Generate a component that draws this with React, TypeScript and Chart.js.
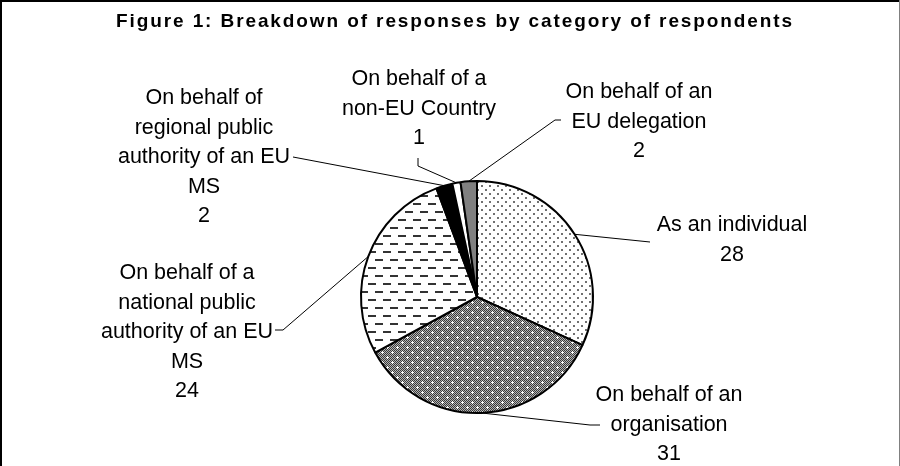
import React, { useEffect, useRef } from 'react';
import { Chart, registerables } from 'chart.js';

Chart.register(...registerables);

const titleText = 'Figure 1: Breakdown of responses by category of respondents';

const categories = [
  'As an individual',
  'On behalf of an organisation',
  'On behalf of a national public authority of an EU MS',
  'On behalf of regional public authority of an EU MS',
  'On behalf of a non-EU Country',
  'On behalf of an EU delegation',
];

const values = [28, 31, 24, 2, 1, 2];

const labelLines = [
  ['As an individual'],
  ['On behalf of an', 'organisation'],
  ['On behalf of a', 'national public', 'authority of an EU', 'MS'],
  ['On behalf of', 'regional public', 'authority of an EU', 'MS'],
  ['On behalf of a', 'non-EU Country'],
  ['On behalf of an', 'EU delegation'],
];

// layout: label centre x and first baseline y, plus leader path points (from label side)
const labelLayout = [
  { x: 732, y: 231, path: [[650, 242]] },
  { x: 669, y: 401, path: [[590, 425], [600, 425]] },
  { x: 187, y: 279, path: [[283, 330], [275, 330]] },
  { x: 204, y: 104, path: [[293, 157]] },
  { x: 419, y: 85, path: [[418, 166], [418, 158]] },
  { x: 639, y: 98, path: [[555, 120], [561, 120]] },
];

const FONT = '"Liberation Sans", Arial, sans-serif';
const LINE_H = 29.5;

function makePattern(ctx: CanvasRenderingContext2D, w: number, h: number, draw: (g: CanvasRenderingContext2D) => void) {
  const c = document.createElement('canvas');
  c.width = w;
  c.height = h;
  const g = c.getContext('2d')!;
  draw(g);
  return ctx.createPattern(c, 'repeat')!;
}

export default function App() {
  const ref = useRef<HTMLCanvasElement | null>(null);

  useEffect(() => {
    document.body.style.margin = '0';
    const canvas = ref.current!;
    const ctx = canvas.getContext('2d')!;

    const pIndividual = makePattern(ctx, 8, 8, (g) => {
      g.fillStyle = '#fff';
      g.fillRect(0, 0, 8, 8);
      g.fillStyle = '#707070';
      g.fillRect(1, 1, 2, 2);
      g.fillRect(5, 5, 2, 2);
    });
    const pOrg = makePattern(ctx, 10, 10, (g) => {
      for (let y = 0; y < 10; y++) {
        for (let x = 0; x < 10; x++) {
          g.fillStyle = (x + y) % 2 === 0 ? '#3a3a3a' : '#b4b4b4';
          g.fillRect(x, y, 1, 1);
        }
      }
      g.fillStyle = '#fff';
      const plus = (cx: number, cy: number) => {
        g.fillRect(cx - 1, cy, 3, 1);
        g.fillRect(cx, cy - 1, 1, 3);
      };
      plus(2, 2);
      plus(7, 7);
    });
    const pNational = makePattern(ctx, 15, 16, (g) => {
      g.fillStyle = '#fff';
      g.fillRect(0, 0, 15, 16);
      g.fillStyle = '#333';
      g.fillRect(0, 3, 8, 2);
      g.fillRect(8, 11, 7, 2);
      g.fillRect(0, 11, 1, 2);
    });

    const fills = [pIndividual, pOrg, pNational, '#000000', '#ffffff', '#808080'];

    const overlay = {
      id: 'overlay',
      afterDraw(chart: any) {
        const c = chart.ctx as CanvasRenderingContext2D;
        c.save();
        // frame
        c.fillStyle = '#000';
        c.fillRect(0, 0, 900, 2);
        c.fillRect(0, 0, 2, 466);
        c.fillStyle = '#808080';
        c.fillRect(899, 0, 1, 466);

        // title
        c.fillStyle = '#000';
        c.font = 'bold 19px ' + FONT;
        (c as any).letterSpacing = '1.9px';
        c.textAlign = 'center';
        c.textBaseline = 'alphabetic';
        c.fillText(titleText, 455, 27);
        (c as any).letterSpacing = '0px';

        const meta = chart.getDatasetMeta(0);
        meta.data.forEach((arc: any, i: number) => {
          const p = arc.getProps(['x', 'y', 'startAngle', 'endAngle', 'outerRadius'], true);
          const mid = (p.startAngle + p.endAngle) / 2;
          const sx = p.x + Math.cos(mid) * p.outerRadius;
          const sy = p.y + Math.sin(mid) * p.outerRadius;
          const lay = labelLayout[i];
          c.strokeStyle = '#000';
          c.lineWidth = 1;
          c.beginPath();
          c.moveTo(sx, sy);
          lay.path.forEach((pt) => c.lineTo(pt[0], pt[1]));
          c.stroke();

          c.fillStyle = '#000';
          c.font = '21.5px ' + FONT;
          c.textAlign = 'center';
          const lines = [...labelLines[i], String(values[i])];
          lines.forEach((t, k) => c.fillText(t, lay.x, lay.y + k * LINE_H));
        });
        c.restore();
      },
    };

    const chart = new Chart(canvas, {
      type: 'pie',
      data: {
        labels: categories,
        datasets: [
          {
            data: values,
            backgroundColor: fills as any,
            borderColor: '#000',
            borderWidth: 2,
          },
        ],
      },
      options: {
        responsive: false,
        animation: false,
        layout: { padding: { left: 360, top: 180, right: 306, bottom: 52 } },
        plugins: {
          legend: { display: false },
          title: { display: false },
          tooltip: { enabled: false },
        },
      },
      plugins: [overlay],
    });
    return () => chart.destroy();
  }, []);

  return (
    <div style={{ width: 900, height: 466, background: '#fff', overflow: 'hidden' }}>
      <canvas ref={ref} width={900} height={466} style={{ display: 'block' }} />
    </div>
  );
}
